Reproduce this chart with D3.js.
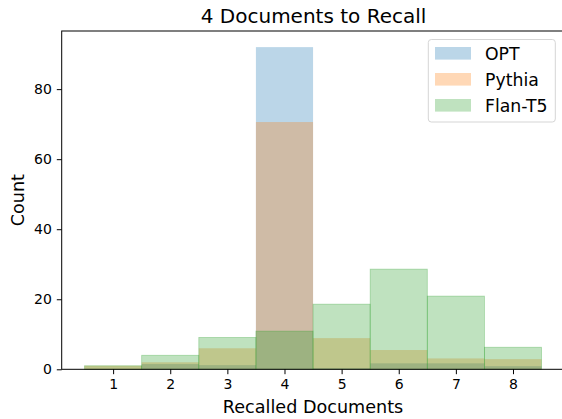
<!DOCTYPE html>
<html>
<head>
<meta charset="utf-8">
<script src="https://cdn.jsdelivr.net/npm/d3@7"></script>
<style>
  body { margin: 0; background: #fff; }
  svg { display: block; font-family: "DejaVu Sans", sans-serif; }
</style>
</head>
<body>
<svg id="chart" width="562" height="419"></svg>
<script>
// Data
const categories = [1, 2, 3, 4, 5, 6, 7, 8];
const seriesNames = ["OPT", "Pythia", "Flan-T5"];
const optValues = [0, 1.5, 1.2, 92, 0.3, 1.7, 1.7, 0.9];
const pythiaValues = [1, 2, 6, 70.6, 8.9, 5.5, 3.1, 2.9];
const flanValues = [1, 4, 9.1, 10.9, 18.6, 28.6, 20.9, 6.3];
const yTicks = [0, 20, 40, 60, 80];
const xTicks = categories;
const colors = ["#1f77b4", "#ff7f0e", "#2ca02c"];
const title = "4 Documents to Recall";
const xLabel = "Recalled Documents";
const yLabel = "Count";

const svg = d3.select("#chart");
const mLeft = 61.7, mRight = 564.4, mTop = 31, mBottom = 369.3;

const x = d3.scaleLinear().domain([0.1, 8.9]).range([mLeft, mRight]);
const ymax = d3.max([...optValues, ...pythiaValues, ...flanValues]) * 1.05;
const y = d3.scaleLinear().domain([0, ymax]).range([mBottom, mTop]);

const series = [optValues, pythiaValues, flanValues];
series.forEach((vals, si) => {
  svg.append("g").selectAll("rect")
    .data(categories.map((c, i) => ({ c, v: vals[i] })))
    .join("rect")
    .attr("x", d => x(d.c - 0.5))
    .attr("width", d => x(d.c + 0.5) - x(d.c - 0.5))
    .attr("y", d => y(d.v))
    .attr("height", d => y(0) - y(d.v))
    .attr("fill", colors[si])
    .attr("fill-opacity", 0.3)
    .attr("stroke", si === 2 ? colors[si] : "none")
    .attr("stroke-opacity", 0.35)
    .attr("stroke-width", 0.8);
});

// Axes
const xAxis = d3.axisBottom(x).tickValues(xTicks).tickFormat(d3.format("d")).tickSize(4.9).tickPadding(4.9);
const yAxis = d3.axisLeft(y).tickValues(yTicks).tickFormat(d3.format("d")).tickSize(4.9).tickPadding(4.9);

const gx = svg.append("g").attr("transform", `translate(0,${mBottom})`).call(xAxis);
const gy = svg.append("g").attr("transform", `translate(${mLeft},0)`).call(yAxis);
[gx, gy].forEach(g => {
  g.select(".domain").remove();
  g.selectAll("line").attr("stroke", "#000").attr("stroke-width", 1);
  g.selectAll("text").attr("font-size", "14px").attr("fill", "#000").attr("font-family", "DejaVu Sans");
});

// Spines
svg.append("rect")
  .attr("x", mLeft).attr("y", mTop)
  .attr("width", mRight - mLeft).attr("height", mBottom - mTop)
  .attr("fill", "none").attr("stroke", "#000").attr("stroke-width", 1);

// Title & labels
svg.append("text").attr("x", (mLeft + mRight) / 2 + 0.5).attr("y", 23)
  .attr("text-anchor", "middle").attr("font-size", "20px").text(title);
svg.append("text").attr("x", (mLeft + mRight) / 2).attr("y", 413)
  .attr("text-anchor", "middle").attr("font-size", "17.6px").text(xLabel);
svg.append("text").attr("transform", `translate(23.5,${(mTop + mBottom) / 2}) rotate(-90)`)
  .attr("text-anchor", "middle").attr("font-size", "17.6px").text(yLabel);

// Legend
const lg = svg.append("g");
lg.append("rect").attr("x", 428.3).attr("y", 39.5).attr("width", 127).attr("height", 82.5)
  .attr("rx", 3).attr("fill", "#fff").attr("fill-opacity", 0.8)
  .attr("stroke", "#d5d5d5").attr("stroke-width", 1);
seriesNames.forEach((n, i) => {
  const cy = 53.3 + i * 26;
  lg.append("rect").attr("x", 435).attr("y", cy - 6.3).attr("width", 36).attr("height", 12.6)
    .attr("fill", colors[i]).attr("fill-opacity", 0.3);
  lg.append("text").attr("x", 485).attr("y", cy + 6.2).attr("font-size", "17.3px").text(n);
});
</script>
</body>
</html>
